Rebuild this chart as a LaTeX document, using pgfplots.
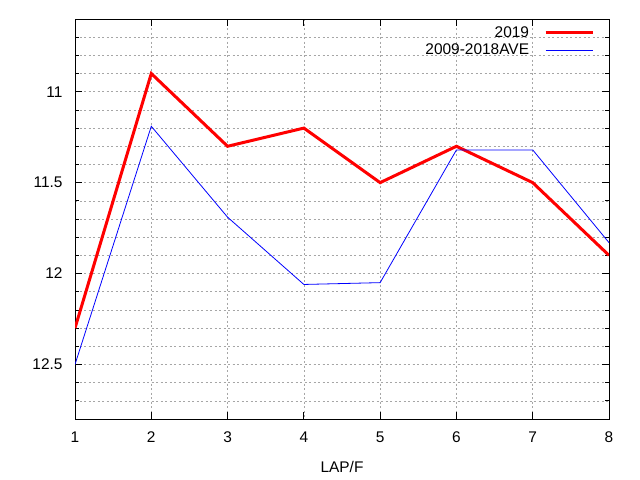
\documentclass[border=0pt]{standalone}
\usepackage{fontspec}
\setmainfont{Liberation Sans}
\usepackage{pgfplots}
\pgfplotsset{compat=1.18}
\begin{document}
\begin{tikzpicture}[font=\fontsize{15.5}{18.5}\selectfont]
\fill[white] (0,0) rectangle (640bp,480bp);
\useasboundingbox (0,0) rectangle (640bp,480bp);
\begin{axis}[
  at={(75bp,61bp)}, anchor=south west,
  scale only axis, width=534bp, height=400bp,
  xmin=1, xmax=8, ymin=10.6, ymax=12.8,
  y dir=reverse,
  xtick={1,...,8},
  ytick={11,11.5,12,12.5},
  minor ytick={10.6,10.7,...,12.8},
  yticklabels={11,11.5,12,12.5},
  tick align=inside,
  major tick length=7bp, minor tick length=4bp,
  tick style={black, line width=0.8bp},
  axis line style={black, line width=0.8bp},
  grid=both,
  major grid style={gray!70, line width=0.6bp, dash pattern=on 2bp off 2.5bp},
  minor grid style={gray!70, line width=0.6bp, dash pattern=on 2bp off 2.5bp},
  /pgf/number format/assume math mode=true,
  xticklabel style={yshift=-9bp},
  yticklabel style={xshift=-9bp},
  xlabel={LAP/F},
  xlabel style={yshift=-12bp},
  legend style={draw=none, fill=none, at={(0.978,0.992)}, anchor=north east,
    row sep=1.5bp, font=\fontsize{15.5}{18.5}\selectfont},
  legend cell align=right,
  legend plot pos=right,
  legend image code/.code={\path (0bp,0bp); \draw[#1] (13bp,0bp) -- (60bp,0bp);},
]
\addplot[red, line width=3bp] coordinates {
(1,12.3) (2,10.9) (3,11.3) (4,11.2) (5,11.5) (6,11.3) (7,11.5) (8,11.9)};
\addlegendentry{2019}
\addplot[blue, line width=0.8bp] coordinates {
(1,12.5) (2,11.19) (3,11.69) (4,12.06) (5,12.05) (6,11.32) (7,11.32) (8,11.83)};
\addlegendentry{2009-2018AVE}
\end{axis}
\end{tikzpicture}
\end{document}
